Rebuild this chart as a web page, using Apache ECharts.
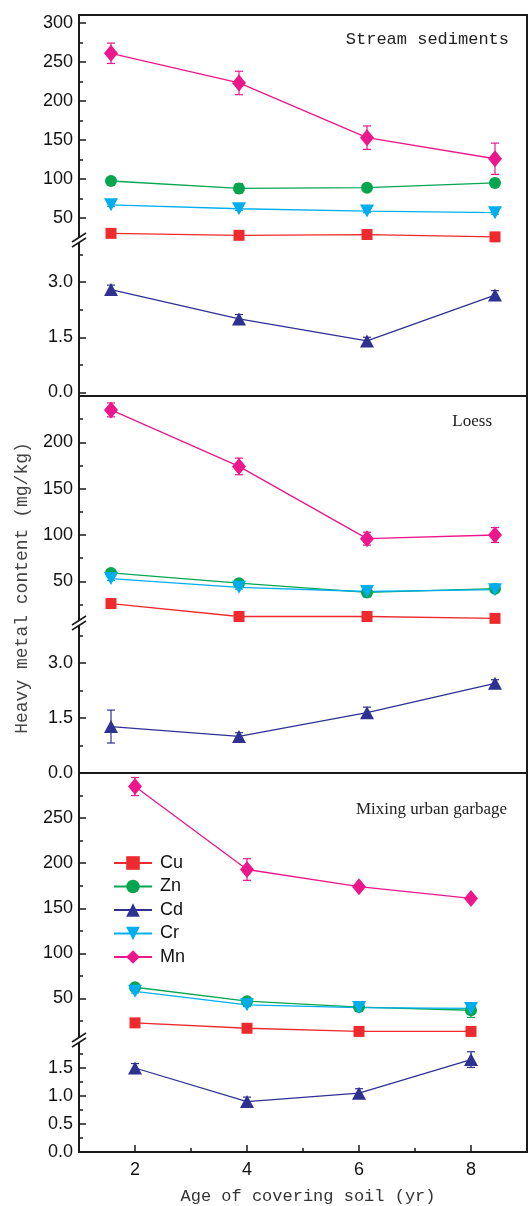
<!DOCTYPE html>
<html>
<head>
<meta charset="utf-8">
<script src="https://cdn.jsdelivr.net/npm/echarts@6/dist/echarts.min.js"></script>
<style>
html, body { margin: 0; padding: 0; background: #fff; }
#chart { width: 528px; height: 1206px; }
</style>
</head>
<body>
<div id="chart"></div>
<script>
var ages = [2, 4, 6, 8];
var metals = ['Cu', 'Zn', 'Cd', 'Cr', 'Mn'];
var colors = ['#ee2a2e', '#06a650', '#2e3192', '#00aeef', '#ec178c'];

// Stream sediments
var streamCu = [30.5, 28, 29, 26];
var streamZn = [97.5, 88, 89, 95];
var streamCd = [2.8, 2.0, 1.4, 2.65];
var streamCr = [67, 62, 59, 57];
var streamMn = [261, 223, 153, 126];
var streamCuErr = [2, 2, 2, 2];
var streamZnErr = [3, 6, 4, 5];
var streamCdErr = [0.12, 0.12, 0.1, 0.12];
var streamCrErr = [2, 2, 2, 2];
var streamMnErr = [13, 15, 15, 20];

// Loess
var loessCu = [26, 12, 12, 10];
var loessZn = [59, 48, 38, 42];
var loessCd = [1.27, 1.0, 1.65, 2.45];
var loessCr = [53, 43.5, 39, 41];
var loessMn = [235, 174, 96, 100];
var loessCuErr = [2, 2, 2, 2];
var loessZnErr = [2, 2, 4, 4];
var loessCdErr = [0.45, 0.1, 0.15, 0.1];
var loessCrErr = [2, 2, 6, 3];
var loessMnErr = [7.5, 9, 7, 8];

// Mixing urban garbage
var mixCu = [23, 17, 13.5, 13.5];
var mixZn = [62.5, 47, 40.5, 37];
var mixCd = [1.5, 0.9, 1.05, 1.65];
var mixCr = [58, 43, 40, 39];
var mixMn = [285, 193, 174, 161];
var mixCuErr = [2, 2, 2, 2];
var mixZnErr = [3, 3, 4, 8];
var mixCdErr = [0.08, 0.08, 0.08, 0.14];
var mixCrErr = [2, 2, 2, 3];
var mixMnErr = [10, 12, 3, 3];

// tick labels
var streamUpperMajor = [50, 100, 150, 200, 250, 300];
var streamUpperMinor = [75, 125, 175, 225, 275];
var streamLowerMajor = [0, 1.5, 3];
var streamLowerMinor = [0.75, 2.25, 3.75];
var loessUpperMajor = [50, 100, 150, 200];
var loessUpperMinor = [25, 75, 125, 175, 225];
var loessLowerMajor = [0, 1.5, 3];
var loessLowerMinor = [0.75, 2.25, 3.75];
var mixUpperMajor = [50, 100, 150, 200, 250];
var mixUpperMinor = [25, 75, 125, 175, 225, 275];
var mixLowerMajor = [0, 0.5, 1, 1.5];
var mixLowerMinor = [0.25, 0.75, 1.25, 1.75];
var ageMajor = [2, 4, 6, 8];
var ageMinor = [3, 5, 7];

var panels = [
	{title: 'Stream sediments', top: 15, cut: 240, bottom: 396, upper: [22, 310], lower: [-0.1, 4.15], xr: [1.5, 8.5],
		values: [streamCu, streamZn, streamCd, streamCr, streamMn],
		errors: [streamCuErr, streamZnErr, streamCdErr, streamCrErr, streamMnErr],
		ticks: [streamUpperMajor, streamUpperMinor, streamLowerMajor, streamLowerMinor]},
	{title: 'Loess', top: 396, cut: 623, bottom: 773, upper: [5, 250], lower: [0, 4.1], xr: [1.5, 8.5],
		values: [loessCu, loessZn, loessCd, loessCr, loessMn],
		errors: [loessCuErr, loessZnErr, loessCdErr, loessCrErr, loessMnErr],
		ticks: [loessUpperMajor, loessUpperMinor, loessLowerMajor, loessLowerMinor]},
	{title: 'Mixing urban garbage', top: 773, cut: 1040, bottom: 1152, upper: [4, 300], lower: [0, 2], xr: [1, 9],
		values: [mixCu, mixZn, mixCd, mixCr, mixMn],
		errors: [mixCuErr, mixZnErr, mixCdErr, mixCrErr, mixMnErr],
		ticks: [mixUpperMajor, mixUpperMinor, mixLowerMajor, mixLowerMinor]}
];

var symbols = ['rect', 'circle', 'triangle', 'path://M0,0L10,0L5,9Z', 'diamond'];
var symbolSizes = [11, 12, [14, 13], [14, 13], [14, 17]];
var ink = '#1a1a1a';

var chart = echarts.init(document.getElementById('chart'));
var grids = [], xAxes = [], yAxes = [], series = [], graphics = [];

function addGrid(top, height, frame){
	grids.push({left: 79, right: 1, top: top, height: height, show: frame,
		borderColor: ink, borderWidth: 2, backgroundColor: 'transparent'});
	return grids.length - 1;
}

function addX(grid, range, ticks){
	var ax = {type: 'value', gridIndex: grid, min: range[0], max: range[1], position: 'bottom',
		axisLine: {show: false}, splitLine: {show: false}, axisTick: {show: false}, axisLabel: {show: false}};
	if(ticks){
		ax.axisTick = {show: true, inside: true, length: 7, customValues: ageMajor, lineStyle: {color: ink, width: 1.5}};
		ax.axisLabel = {show: true, customValues: ageMajor, margin: 9, fontFamily: 'Liberation Sans', fontSize: 18, color: '#111'};
		xAxes.push(ax);
		xAxes.push({type: 'value', gridIndex: grid, min: range[0], max: range[1], position: 'bottom',
			axisLine: {show: false}, splitLine: {show: false}, axisLabel: {show: false},
			axisTick: {show: true, inside: true, length: 4, customValues: ageMinor, lineStyle: {color: ink, width: 1.5}}});
		return xAxes.length - 2;
	}
	xAxes.push(ax);
	return xAxes.length - 1;
}

function addY(grid, range, major, minor, digits){
	var base = {type: 'value', gridIndex: grid, min: range[0], max: range[1], position: 'left',
		axisLine: {show: false}, splitLine: {show: false}};
	yAxes.push(Object.assign({}, base, {
		axisTick: {inside: true, length: 7, customValues: major, lineStyle: {color: ink, width: 1.5}},
		axisLabel: {customValues: major, margin: 6, fontFamily: 'Liberation Sans', fontSize: 18, color: '#111',
			formatter: function(v){ return Number(v).toFixed(digits); }}
	}));
	yAxes.push(Object.assign({}, base, {
		axisTick: {inside: true, length: 4, customValues: minor, lineStyle: {color: ink, width: 1.5}},
		axisLabel: {show: false}
	}));
	return yAxes.length - 2;
}

function errorRender(color){
	return function(params, api){
		var x = api.value(0), y = api.value(1), e = api.value(2);
		var hi = api.coord([x, y + e]), lo = api.coord([x, y - e]);
		var st = {stroke: color, lineWidth: 1.2};
		return {type: 'group', children: [
			{type: 'line', shape: {x1: hi[0], y1: hi[1], x2: lo[0], y2: lo[1]}, style: st},
			{type: 'line', shape: {x1: hi[0] - 4, y1: hi[1], x2: hi[0] + 4, y2: hi[1]}, style: st},
			{type: 'line', shape: {x1: lo[0] - 4, y1: lo[1], x2: lo[0] + 4, y2: lo[1]}, style: st}
		]};
	};
}

panels.forEach(function(p, pi){
	// frame round the whole panel
	var f = addGrid(p.top, p.bottom - p.top, true);
	addX(f, [0, 1], false);
	yAxes.push({type: 'value', gridIndex: f, show: false});

	var up = addGrid(p.top, p.cut - p.top, false);
	var low = addGrid(p.cut, p.bottom - p.cut, false);
	var xu = addX(up, p.xr, false);
	var xl = addX(low, p.xr, pi === 2);
	var yu = addY(up, p.upper, p.ticks[0], p.ticks[1], 0);
	var yl = addY(low, p.lower, p.ticks[2], p.ticks[3], 1);

	var errs = [], lines = [];
	metals.forEach(function(m, mi){
		var lower = m === 'Cd';
		var vals = p.values[mi];
		errs.push({type: 'custom', name: 'err', xAxisIndex: lower ? xl : xu, yAxisIndex: lower ? yl : yu,
			clip: false, silent: true, encode: {x: 0, y: 1},
			renderItem: errorRender(colors[mi]),
			data: ages.map(function(a, i){ return [a, vals[i], p.errors[mi][i]]; })});
		lines.push({type: 'line', name: m, xAxisIndex: lower ? xl : xu, yAxisIndex: lower ? yl : yu,
			symbol: symbols[mi], symbolSize: symbolSizes[mi], showAllSymbol: true,
			itemStyle: {color: colors[mi]}, lineStyle: {color: colors[mi], width: 1.3},
			emphasis: {disabled: true}, silent: true, clip: false,
			data: ages.map(function(a, i){ return [a, vals[i]]; })});
	});
	series = series.concat(errs, lines);

	// axis break on the left spine
	var y = p.cut;
	graphics.push({type: 'polygon', z: 100, shape: {points: [[72, y + 2], [86, y - 7], [86, y - 2], [72, y + 7]]},
		style: {fill: '#fff'}});
	graphics.push({type: 'line', z: 101, shape: {x1: 72, y1: y + 2, x2: 86, y2: y - 7}, style: {stroke: ink, lineWidth: 1.5}});
	graphics.push({type: 'line', z: 101, shape: {x1: 72, y1: y + 7, x2: 86, y2: y - 2}, style: {stroke: ink, lineWidth: 1.5}});
});

graphics.push({type: 'text', z: 100, x: 509, y: 39, style: {text: 'Stream sediments', align: 'right', verticalAlign: 'middle',
	font: '17px "Liberation Mono"', fill: '#222'}});
graphics.push({type: 'text', z: 100, x: 492, y: 422, style: {text: 'Loess', align: 'right', verticalAlign: 'middle',
	font: '17px "Liberation Serif"', fill: '#222'}});
graphics.push({type: 'text', z: 100, x: 507, y: 810, style: {text: 'Mixing urban garbage', align: 'right', verticalAlign: 'middle',
	font: '17px "Liberation Serif"', fill: '#222'}});
graphics.push({type: 'text', z: 100, x: 22, y: 588, rotation: Math.PI / 2, style: {text: 'Heavy metal content (mg/kg)',
	align: 'center', verticalAlign: 'middle', font: '18px "Liberation Mono"', fill: '#444'}});
graphics.push({type: 'text', z: 100, x: 308, y: 1196, style: {text: 'Age of covering soil (yr)', align: 'center',
	verticalAlign: 'middle', font: '17px "Liberation Mono"', fill: '#333'}});

chart.setOption({
	animation: false,
	grid: grids,
	xAxis: xAxes,
	yAxis: yAxes,
	legend: {data: metals, orient: 'vertical', left: 108, top: 849, itemWidth: 38, itemHeight: 17, itemGap: 5.5,
		selectedMode: false,
		textStyle: {fontFamily: 'Liberation Sans', fontSize: 18, color: '#111', lineHeight: 17, padding: [0, 0, 0, 3]}},
	graphic: graphics,
	series: series
});
</script>
</body>
</html>
